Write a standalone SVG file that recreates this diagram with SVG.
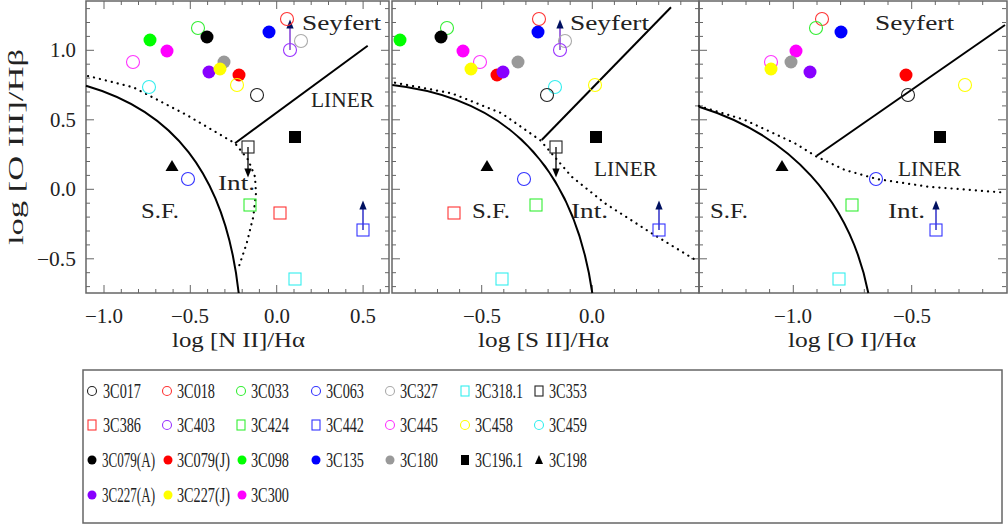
<svg xmlns="http://www.w3.org/2000/svg" xmlns:xlink="http://www.w3.org/1999/xlink" width="1008" height="525" viewBox="0 0 1008 525">
<style>
text{font-family:"Liberation Serif","DejaVu Serif",serif;fill:#222}
.lb{font-size:20px}
.tk{font-size:20px}
.rg{font-size:21px}
.frame{fill:none;stroke:#666;stroke-width:1.5}
.tick{fill:none;stroke:#666;stroke-width:1}
.sol{fill:none;stroke:#000;stroke-width:2}
.dot{fill:none;stroke:#000;stroke-width:2.2;stroke-dasharray:0.1 6;stroke-linecap:round}
.o{fill:none;stroke-width:1.1}
.lg{font-size:20px}
</style>
<defs>
<marker id="ah" viewBox="0 0 10 10" refX="5" refY="5" markerWidth="7" markerHeight="9" orient="auto"><path d="M0 1L10 5L0 9z" fill="#000"/></marker>
<marker id="ahn" viewBox="0 0 10 10" refX="5" refY="5" markerWidth="7" markerHeight="9" orient="auto"><path d="M0 1L10 5L0 9z" fill="#001060"/></marker>
<path id="yt" class="tick" d="M0 286.6h4M0 272.7h4M0 258.8h8M0 244.9h4M0 231h4M0 217.1h4M0 203.2h4M0 189.3h8M0 175.4h4M0 161.5h4M0 147.6h4M0 133.7h4M0 119.8h8M0 105.9h4M0 92h4M0 78.1h4M0 64.2h4M0 50.3h8M0 36.4h4M0 22.5h4M0 8.6h4"/>
</defs>
<rect width="1008" height="525" fill="#fff"/>

<g id="axes">
<rect class="frame" x="86" y="1" width="303" height="292"/>
<rect class="frame" x="392" y="1" width="307" height="292"/>
<rect class="frame" x="699" y="1" width="308" height="292"/>
<use href="#yt" transform="translate(86,0)"/>
<use href="#yt" transform="translate(389,0) scale(-1,1)"/>
<use href="#yt" transform="translate(392,0)"/>
<use href="#yt" transform="translate(699,0) scale(-1,1)"/>
<use href="#yt" transform="translate(699,0)"/>
<use href="#yt" transform="translate(1006,0) scale(-1,1)"/>
<path class="tick" d="M104 293v-8M121.3 293v-4M138.5 293v-4M155.8 293v-4M173.1 293v-4M190.3 293v-8M207.6 293v-4M224.9 293v-4M242.2 293v-4M259.4 293v-4M276.7 293v-8M294 293v-4M311.2 293v-4M328.5 293v-4M345.8 293v-4M363.1 293v-8M380.3 293v-4
M104 1v8M121.3 1v4M138.5 1v4M155.8 1v4M173.1 1v4M190.3 1v8M207.6 1v4M224.9 1v4M242.2 1v4M259.4 1v4M276.7 1v8M294 1v4M311.2 1v4M328.5 1v4M345.8 1v4M363.1 1v8M380.3 1v4"/>
<path class="tick" d="M415.3 293v-4M437.5 293v-4M459.6 293v-4M481.7 293v-8M503.8 293v-4M525.9 293v-4M548.1 293v-4M570.2 293v-4M592.3 293v-8M614.4 293v-4M636.5 293v-4M658.7 293v-4M680.8 293v-4
M415.3 1v4M437.5 1v4M459.6 1v4M481.7 1v8M503.8 1v4M525.9 1v4M548.1 1v4M570.2 1v4M592.3 1v8M614.4 1v4M636.5 1v4M658.7 1v4M680.8 1v4"/>
<path class="tick" d="M722.3 293v-4M746 293v-4M769.6 293v-4M793.3 293v-8M817 293v-4M840.6 293v-4M864.3 293v-4M888 293v-4M911.7 293v-8M935.3 293v-4M959 293v-4M982.7 293v-4
M722.3 1v4M746 1v4M769.6 1v4M793.3 1v8M817 1v4M840.6 1v4M864.3 1v4M888 1v4M911.7 1v8M935.3 1v4M959 1v4M982.7 1v4"/>
<g class="tk">
<text x="50" y="57" textLength="26" lengthAdjust="spacingAndGlyphs">1.0</text>
<text x="50" y="127" textLength="26" lengthAdjust="spacingAndGlyphs">0.5</text>
<text x="50" y="196" textLength="26" lengthAdjust="spacingAndGlyphs">0.0</text>
<text x="37" y="266" textLength="39" lengthAdjust="spacingAndGlyphs">−0.5</text>
<text x="85" y="323" textLength="38" lengthAdjust="spacingAndGlyphs">−1.0</text>
<text x="171" y="323" textLength="38" lengthAdjust="spacingAndGlyphs">−0.5</text>
<text x="264" y="323" textLength="26" lengthAdjust="spacingAndGlyphs">0.0</text>
<text x="350" y="323" textLength="26" lengthAdjust="spacingAndGlyphs">0.5</text>
<text x="463" y="323" textLength="38" lengthAdjust="spacingAndGlyphs">−0.5</text>
<text x="579" y="323" textLength="26" lengthAdjust="spacingAndGlyphs">0.0</text>
<text x="774" y="323" textLength="38" lengthAdjust="spacingAndGlyphs">−1.0</text>
<text x="893" y="323" textLength="38" lengthAdjust="spacingAndGlyphs">−0.5</text>
</g>
<g class="lb">
<text x="172" y="347" textLength="133" lengthAdjust="spacingAndGlyphs">log [N II]/Hα</text>
<text x="478" y="347" textLength="131" lengthAdjust="spacingAndGlyphs">log [S II]/Hα</text>
<text x="788" y="347" textLength="128" lengthAdjust="spacingAndGlyphs">log [O I]/Hα</text>
<text transform="translate(23,245) rotate(-90)" textLength="196" lengthAdjust="spacingAndGlyphs">log [O III]/Hβ</text>
</g>
</g>

<g id="connectors">
<path class="sol" d="M86,85.7 C170,110 225,170 238.7,293"/>
<polyline class="dot" points="88,76 133.3,87.3 186.7,115 235,143.3 248.3,160 255,176.7 256,193.3 253.3,216.7 246.7,243.3 238.3,268.3"/>
<line class="sol" x1="235" y1="143.3" x2="367.7" y2="45.7"/>
<path class="sol" d="M392.3,85 C480,95 570,140 592.3,293"/>
<polyline class="dot" points="395,82.7 451.7,93.3 501.7,113.3 540,140 571.7,176.7 605,203.3 651.7,233.3 698.3,261.7"/>
<line class="sol" x1="541.7" y1="140" x2="671" y2="7.3"/>
<path class="sol" d="M699,106.7 C790,135 850,200 868.3,293"/>
<polyline class="dot" points="699,106 745,120 795,143.3 816.7,156.7 845,170 876.7,179 928.3,186.7 1006,192.7"/>
<line class="sol" x1="816.7" y1="155.7" x2="1005" y2="25"/>
<line x1="290" y1="50" x2="290" y2="24" stroke="#7020d0" stroke-width="1.3" marker-end="url(#ahn)"/>
<line x1="248" y1="147" x2="248" y2="173" stroke="#000" stroke-width="1.3" marker-end="url(#ah)"/>
<line x1="363" y1="230" x2="363" y2="205" stroke="#1010c0" stroke-width="1.3" marker-end="url(#ahn)"/>
<line x1="560" y1="50" x2="560" y2="24" stroke="#7020d0" stroke-width="1.3" marker-end="url(#ahn)"/>
<line x1="556" y1="147" x2="556" y2="173" stroke="#000" stroke-width="1.3" marker-end="url(#ah)"/>
<line x1="659" y1="230" x2="659" y2="205" stroke="#1010c0" stroke-width="1.3" marker-end="url(#ahn)"/>
<line x1="936" y1="230" x2="936" y2="205" stroke="#1010c0" stroke-width="1.3" marker-end="url(#ahn)"/>
</g>

<g id="region-labels" class="rg">
<text x="302" y="30" textLength="79" lengthAdjust="spacingAndGlyphs">Seyfert</text>
<text x="311" y="107" textLength="63" lengthAdjust="spacingAndGlyphs">LINER</text>
<text x="218" y="190" textLength="37" lengthAdjust="spacingAndGlyphs">Int.</text>
<text x="141" y="218" textLength="38" lengthAdjust="spacingAndGlyphs">S.F.</text>
<text x="570" y="30" textLength="79" lengthAdjust="spacingAndGlyphs">Seyfert</text>
<text x="594" y="176" textLength="63" lengthAdjust="spacingAndGlyphs">LINER</text>
<text x="571" y="218" textLength="37" lengthAdjust="spacingAndGlyphs">Int.</text>
<text x="472" y="218" textLength="38" lengthAdjust="spacingAndGlyphs">S.F.</text>
<text x="875" y="30" textLength="79" lengthAdjust="spacingAndGlyphs">Seyfert</text>
<text x="898" y="176" textLength="63" lengthAdjust="spacingAndGlyphs">LINER</text>
<text x="888" y="218" textLength="37" lengthAdjust="spacingAndGlyphs">Int.</text>
<text x="710" y="218" textLength="38" lengthAdjust="spacingAndGlyphs">S.F.</text>
</g>

<g id="points-nii">
<circle class="o" cx="287" cy="19" r="6.5" stroke="#f33"/>
<circle class="o" cx="290" cy="50" r="6.5" stroke="#93f"/>
<circle class="o" cx="301" cy="41" r="6.5" stroke="#aaa"/>
<circle cx="269" cy="32" r="6.5" fill="#00f"/>
<circle class="o" cx="198" cy="28" r="6.5" stroke="#3e3"/>
<circle cx="207" cy="37" r="6.5" fill="#000"/>
<circle cx="150" cy="40" r="6.5" fill="#0f0"/>
<circle cx="167" cy="51" r="6.5" fill="#f0f"/>
<circle class="o" cx="133" cy="62" r="6.5" stroke="#f3f"/>
<circle cx="224" cy="62" r="6.5" fill="#999"/>
<circle cx="209" cy="72" r="6.5" fill="#80f"/>
<circle cx="220" cy="69" r="6.5" fill="#ff0"/>
<circle cx="239" cy="75" r="6.5" fill="#f00"/>
<circle class="o" cx="237" cy="85" r="6.5" stroke="#ff0"/>
<circle class="o" cx="257" cy="95" r="6.5" stroke="#222"/>
<circle class="o" cx="149" cy="87" r="6.5" stroke="#3ee"/>
<rect x="289" y="131" width="12" height="12" fill="#000"/>
<rect class="o" x="242" y="141" width="12" height="12" stroke="#222"/>
<path d="M172 160l6.5 11h-13z" fill="#000"/>
<circle class="o" cx="188" cy="179" r="6.5" stroke="#33f"/>
<rect class="o" x="244" y="199" width="12" height="12" stroke="#3e3"/>
<rect class="o" x="274" y="207" width="12" height="12" stroke="#f33"/>
<rect class="o" x="357" y="224" width="12" height="12" stroke="#33f"/>
<rect class="o" x="289" y="273" width="12" height="12" stroke="#3ee"/>
</g>

<g id="points-sii">
<circle class="o" cx="539" cy="19" r="6.5" stroke="#f33"/>
<circle cx="538" cy="32" r="6.5" fill="#00f"/>
<circle class="o" cx="565" cy="41" r="6.5" stroke="#aaa"/>
<circle class="o" cx="560" cy="50" r="6.5" stroke="#93f"/>
<circle class="o" cx="447" cy="28" r="6.5" stroke="#3e3"/>
<circle cx="441" cy="37" r="6.5" fill="#000"/>
<circle cx="400" cy="40" r="6.5" fill="#0f0"/>
<circle cx="463" cy="51" r="6.5" fill="#f0f"/>
<circle class="o" cx="480" cy="62" r="6.5" stroke="#f3f"/>
<circle cx="518" cy="62" r="6.5" fill="#999"/>
<circle cx="471" cy="69" r="6.5" fill="#ff0"/>
<circle cx="497" cy="75" r="6.5" fill="#f00"/>
<circle cx="503" cy="72" r="6.5" fill="#80f"/>
<circle class="o" cx="555" cy="87" r="6.5" stroke="#3ee"/>
<circle class="o" cx="547" cy="95" r="6.5" stroke="#222"/>
<circle class="o" cx="595" cy="85" r="6.5" stroke="#ff0"/>
<rect x="590" y="131" width="12" height="12" fill="#000"/>
<rect class="o" x="550" y="141" width="12" height="12" stroke="#222"/>
<path d="M487 160l6.5 11h-13z" fill="#000"/>
<circle class="o" cx="524" cy="179" r="6.5" stroke="#33f"/>
<rect class="o" x="530" y="199" width="12" height="12" stroke="#3e3"/>
<rect class="o" x="448" y="207" width="12" height="12" stroke="#f33"/>
<rect class="o" x="653" y="224" width="12" height="12" stroke="#33f"/>
<rect class="o" x="496" y="273" width="12" height="12" stroke="#3ee"/>
</g>

<g id="points-oi">
<circle class="o" cx="822" cy="19" r="6.5" stroke="#f33"/>
<circle class="o" cx="816" cy="28" r="6.5" stroke="#3e3"/>
<circle cx="841" cy="32" r="6.5" fill="#00f"/>
<circle cx="796" cy="51" r="6.5" fill="#f0f"/>
<circle class="o" cx="771" cy="62" r="6.5" stroke="#f3f"/>
<circle cx="791" cy="62" r="6.5" fill="#999"/>
<circle cx="771" cy="69" r="6.5" fill="#ff0"/>
<circle cx="810" cy="72" r="6.5" fill="#80f"/>
<circle cx="906" cy="75" r="6.5" fill="#f00"/>
<circle class="o" cx="908" cy="95" r="6.5" stroke="#222"/>
<circle class="o" cx="965" cy="85" r="6.5" stroke="#ff0"/>
<rect x="934" y="131" width="12" height="12" fill="#000"/>
<path d="M782 160l6.5 11h-13z" fill="#000"/>
<circle class="o" cx="876" cy="179" r="6.5" stroke="#33f"/>
<rect class="o" x="846" y="199" width="12" height="12" stroke="#3e3"/>
<rect class="o" x="930" y="224" width="12" height="12" stroke="#33f"/>
<rect class="o" x="833" y="273" width="12" height="12" stroke="#3ee"/>
</g>

<g id="legend">
<rect x="83" y="370" width="919" height="153" fill="none" stroke="#666" stroke-width="1.5"/>
<g class="o">
<circle cx="92" cy="391" r="4.5" stroke="#222"/><circle cx="167" cy="391" r="4.5" stroke="#f33"/><circle cx="241" cy="391" r="4.5" stroke="#3e3"/><circle cx="316" cy="391" r="4.5" stroke="#33f"/><circle cx="390" cy="391" r="4.5" stroke="#aaa"/><rect x="461" y="386" width="8" height="10" stroke="#3ee"/><rect x="535" y="386" width="8" height="10" stroke="#222"/>
<rect x="88" y="420" width="8" height="10" stroke="#f33"/><circle cx="167" cy="425" r="4.5" stroke="#93f"/><rect x="237" y="420" width="8" height="10" stroke="#3e3"/><rect x="312" y="420" width="8" height="10" stroke="#33f"/><circle cx="390" cy="425" r="4.5" stroke="#f3f"/><circle cx="465" cy="425" r="4.5" stroke="#ff0"/><circle cx="539" cy="425" r="4.5" stroke="#3ee"/>
</g>
<circle cx="92" cy="460" r="4.5" fill="#000"/><circle cx="168" cy="460" r="4.5" fill="#f00"/><circle cx="242" cy="460" r="4.5" fill="#0f0"/><circle cx="316" cy="460" r="4.5" fill="#00f"/><circle cx="390" cy="460" r="4.5" fill="#999"/><rect x="461" y="455" width="8" height="10" fill="#000"/><path d="M539 455l4 9h-8z" fill="#000"/>
<circle cx="92" cy="495" r="4.5" fill="#80f"/><circle cx="168" cy="495" r="4.5" fill="#ff0"/><circle cx="242" cy="495" r="4.5" fill="#f0f"/>
<g class="lg">
<text x="103" y="398" textLength="38" lengthAdjust="spacingAndGlyphs">3C017</text>
<text x="177" y="398" textLength="38" lengthAdjust="spacingAndGlyphs">3C018</text>
<text x="251" y="398" textLength="38" lengthAdjust="spacingAndGlyphs">3C033</text>
<text x="326" y="398" textLength="38" lengthAdjust="spacingAndGlyphs">3C063</text>
<text x="400" y="398" textLength="38" lengthAdjust="spacingAndGlyphs">3C327</text>
<text x="475" y="398" textLength="48" lengthAdjust="spacingAndGlyphs">3C318.1</text>
<text x="549" y="398" textLength="38" lengthAdjust="spacingAndGlyphs">3C353</text>
<text x="103" y="432" textLength="38" lengthAdjust="spacingAndGlyphs">3C386</text>
<text x="177" y="432" textLength="38" lengthAdjust="spacingAndGlyphs">3C403</text>
<text x="251" y="432" textLength="38" lengthAdjust="spacingAndGlyphs">3C424</text>
<text x="326" y="432" textLength="38" lengthAdjust="spacingAndGlyphs">3C442</text>
<text x="400" y="432" textLength="38" lengthAdjust="spacingAndGlyphs">3C445</text>
<text x="475" y="432" textLength="38" lengthAdjust="spacingAndGlyphs">3C458</text>
<text x="549" y="432" textLength="38" lengthAdjust="spacingAndGlyphs">3C459</text>
<text x="102" y="467" textLength="53" lengthAdjust="spacingAndGlyphs">3C079(A)</text>
<text x="177" y="467" textLength="53" lengthAdjust="spacingAndGlyphs">3C079(J)</text>
<text x="251" y="467" textLength="38" lengthAdjust="spacingAndGlyphs">3C098</text>
<text x="326" y="467" textLength="38" lengthAdjust="spacingAndGlyphs">3C135</text>
<text x="400" y="467" textLength="38" lengthAdjust="spacingAndGlyphs">3C180</text>
<text x="475" y="467" textLength="48" lengthAdjust="spacingAndGlyphs">3C196.1</text>
<text x="549" y="467" textLength="38" lengthAdjust="spacingAndGlyphs">3C198</text>
<text x="102" y="502" textLength="53" lengthAdjust="spacingAndGlyphs">3C227(A)</text>
<text x="177" y="502" textLength="53" lengthAdjust="spacingAndGlyphs">3C227(J)</text>
<text x="251" y="502" textLength="38" lengthAdjust="spacingAndGlyphs">3C300</text>
</g>
</g>
</svg>
